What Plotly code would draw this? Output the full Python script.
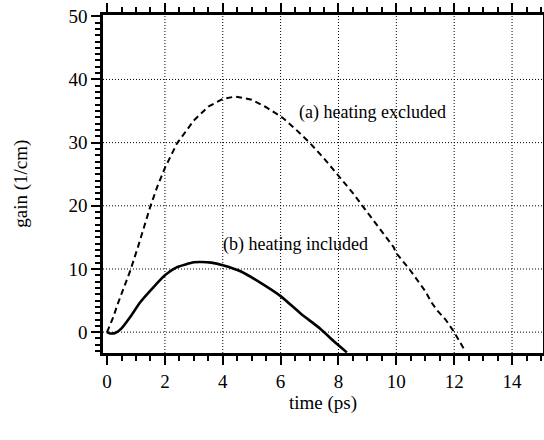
import plotly.graph_objects as go

# curve (a): heating excluded (dashed)
t_a = [0, 0.2, 0.38, 0.6, 0.8, 1.07, 1.3, 1.49, 1.75, 2.0, 2.42, 3.0, 3.5, 4.0, 4.43,
       5.0, 5.5, 6.05, 6.5, 7.02, 7.5, 8.0, 8.5, 8.86, 9.4, 9.9, 10.0, 10.48, 11.0,
       11.2, 11.4, 11.7, 12.0, 12.38]
g_a = [0, 2.2, 4.6, 7.3, 9.7, 13.5, 17.0, 19.8, 23.2, 26.0, 29.9, 33.5, 35.7, 36.9, 37.3,
       36.8, 35.6, 34.0, 32.2, 29.9, 27.5, 24.8, 22.0, 19.8, 16.5, 13.5, 12.5, 9.8, 6.5,
       4.8, 3.5, 2.0, 0.0, -3.0]

# curve (b): heating included (solid)
t_b = [0, 0.1, 0.3, 0.5, 0.8, 1.14, 1.6, 2.0, 2.42, 3.0, 3.26, 3.6, 4.0, 4.63, 5.31,
       6.0, 6.68, 7.37, 7.82, 8.29]
g_b = [0, -0.2, -0.1, 0.6, 2.4, 4.7, 7.1, 9.0, 10.3, 11.05, 11.1, 11.0, 10.6, 9.6, 7.8,
       5.7, 3.0, 0.55, -1.35, -3.2]

x_grid = [2, 4, 6, 8, 10, 12, 14]
y_grid = [0, 10, 20, 30, 40]

label_a = "(a) heating excluded"
label_b = "(b) heating included"

FONT = "Liberation Serif"

fig = go.Figure()
fig.add_trace(go.Scatter(x=t_a, y=g_a, mode="lines",
                         line=dict(color="black", width=2, dash="6px,4px"),
                         showlegend=False, hoverinfo="skip"))
fig.add_trace(go.Scatter(x=t_b, y=g_b, mode="lines",
                         line=dict(color="black", width=2.6, shape="spline", smoothing=0.5),
                         showlegend=False, hoverinfo="skip"))

shapes = []
for xv in x_grid:
    shapes.append(dict(type="line", xref="x", yref="paper", x0=xv, x1=xv, y0=0, y1=1,
                       line=dict(color="black", width=1, dash="1px,2px"), layer="below"))
for yv in y_grid:
    shapes.append(dict(type="line", xref="paper", yref="y", x0=0, x1=1, y0=yv, y1=yv,
                       line=dict(color="black", width=1, dash="1px,2px"), layer="below"))

axis_common = dict(
    showgrid=False, zeroline=False, showline=True, linecolor="black", linewidth=2.5,
    mirror="ticks", ticks="outside", ticklen=9, tickwidth=1.5, tickcolor="black",
    tickfont=dict(family=FONT, size=19, color="black"), automargin=False,
)

fig.update_layout(
    width=544, height=440,
    margin=dict(l=103, r=1, t=15, b=87),
    paper_bgcolor="white", plot_bgcolor="white",
    font=dict(family=FONT, size=18, color="black"),
    shapes=shapes,
    xaxis=dict(range=[-0.14, 15.07], tickvals=[0, 2, 4, 6, 8, 10, 12, 14],
               minor=dict(dtick=0.5, tick0=0, ticks="outside", ticklen=5, tickwidth=1.5,
                          tickcolor="black", showgrid=False),
               **axis_common),
    yaxis=dict(range=[-3.3, 50.2], tickvals=[0, 10, 20, 30, 40, 50],
               minor=dict(dtick=1, tick0=0, ticks="outside", ticklen=5, tickwidth=1.5,
                          tickcolor="black", showgrid=False),
               **axis_common),
    annotations=[
        dict(x=6.57, y=34.7, xref="x", yref="y", text=label_a, showarrow=False,
             xanchor="left", yanchor="middle", font=dict(family=FONT, size=18)),
        dict(x=3.94, y=13.8, xref="x", yref="y", text=label_b, showarrow=False,
             xanchor="left", yanchor="middle", font=dict(family=FONT, size=18)),
        dict(x=-0.187, y=0.5, xref="paper", yref="paper", text="gain (1/cm)",
             showarrow=False, textangle=-90, xanchor="center", yanchor="middle",
             font=dict(family=FONT, size=19)),
        dict(x=0.5, y=-0.148, xref="paper", yref="paper", text="time (ps)",
             showarrow=False, xanchor="center", yanchor="middle",
             font=dict(family=FONT, size=19)),
    ],
)

fig.write_html("out.html")
